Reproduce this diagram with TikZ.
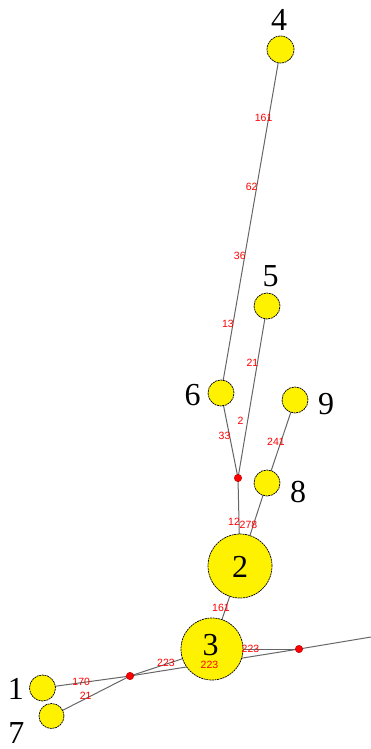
\documentclass[tikz,border=0pt]{standalone}
\usepackage{fontspec}
\setmainfont{Liberation Serif}
\newfontfamily\labfont{Liberation Sans}
\usetikzlibrary{calc,backgrounds}
\tikzset{
  x=1pt,y=1pt,
  hap/.style={circle,fill=yellow,draw=black,line width=0.7pt,dash pattern=on 2pt off 0.7pt,inner sep=0pt,minimum size=#1},
  junc/.style={circle,fill=red,draw=red!70!black,line width=0.4pt,inner sep=0pt,minimum size=7.5pt},
  edge/.style={draw=black!60,line width=1pt},
  mut/.style={text=red,font=\labfont\fontsize{10.5}{10.5}\selectfont,inner sep=0pt,xshift=-5pt},
  num/.style={font=\fontsize{32}{32}\selectfont,inner sep=0pt}
}
\begin{document}
\begin{tikzpicture}
\useasboundingbox (0,0) rectangle (371,-749);
% haplotype nodes
\node[hap=27pt] (n4) at (280.5,-49.5) {};
\node[hap=26pt] (n5) at (267,-306) {};
\node[hap=26pt] (n6) at (221,-393) {};
\node[hap=26pt] (n9) at (295,-400) {};
\node[hap=26pt] (n8) at (267,-483) {};
\node[hap=64pt] (n2) at (240,-566) {};
\node[hap=62pt] (n3) at (212,-649) {};
\node[hap=26pt] (n1) at (42.5,-688) {};
\node[hap=25pt] (n7) at (51.5,-716) {};
% median vectors
\node[junc] (ja) at (238,-478) {};
\node[junc] (jb) at (299,-649) {};
\node[junc] (jc) at (130,-676) {};
\coordinate (out) at (371,-637);
% edges
\begin{scope}[on background layer]
\draw[edge] (n4.center) -- (n6.center);
\draw[edge] (n5.center) -- (ja.center);
\draw[edge] (n6.center) -- (ja.center);
\draw[edge] (n9.center) -- (n8.center);
\draw[edge] (ja.center) -- (n2.center);
\draw[edge] (n8.center) -- (n2.center);
\draw[edge] (n2.center) -- (n3.center);
\draw[edge] (n3.center) -- (jb.center);
\draw[edge] (jc.center) -- (jb.center);
\draw[edge] (jc.center) -- (n3.center);
\draw[edge] (jc.center) -- (n1.center);
\draw[edge] (jc.center) -- (n7.center);
\draw[edge] (jb.center) -- (out);
\end{scope}
% mutation labels
\node[mut] at ($(n4.center)!0.2!(n6.center)$) {161};
\node[mut] at ($(n4.center)!0.4!(n6.center)$) {62};
\node[mut] at ($(n4.center)!0.6!(n6.center)$) {36};
\node[mut] at ($(n4.center)!0.8!(n6.center)$) {13};
\node[mut] at ($(n5.center)!0.333!(ja.center)$) {21};
\node[mut,xshift=-2pt] at ($(n5.center)!0.667!(ja.center)$) {2};
\node[mut] at ($(n6.center)!0.5!(ja.center)$) {33};
\node[mut] at ($(n9.center)!0.5!(n8.center)$) {241};
\node[mut] at ($(ja.center)!0.5!(n2.center)$) {12};
\node[mut] at ($(n8.center)!0.5!(n2.center)$) {278};
\node[mut] at ($(n2.center)!0.5!(n3.center)$) {161};
\node[mut] at ($(n3.center)!0.5!(jb.center)$) {223};
\node[mut,yshift=-2pt] at ($(jc.center)!0.5!(jb.center)$) {223};
\node[mut] at ($(jc.center)!0.5!(n3.center)$) {223};
\node[mut] at ($(jc.center)!0.5!(n1.center)$) {170};
\node[mut] at ($(jc.center)!0.5!(n7.center)$) {21};
% haplotype names
\node[num] at (279,-20) {4};
\node[num] at (270.5,-276) {5};
\node[num] at (192.5,-395) {6};
\node[num] at (326,-404) {9};
\node[num] at (298,-492) {8};
\node[num] at (240,-567) {2};
\node[num] at (210.5,-645) {3};
\node[num] at (16,-689) {1};
\node[num] at (16.5,-733) {7};
\end{tikzpicture}
\end{document}
